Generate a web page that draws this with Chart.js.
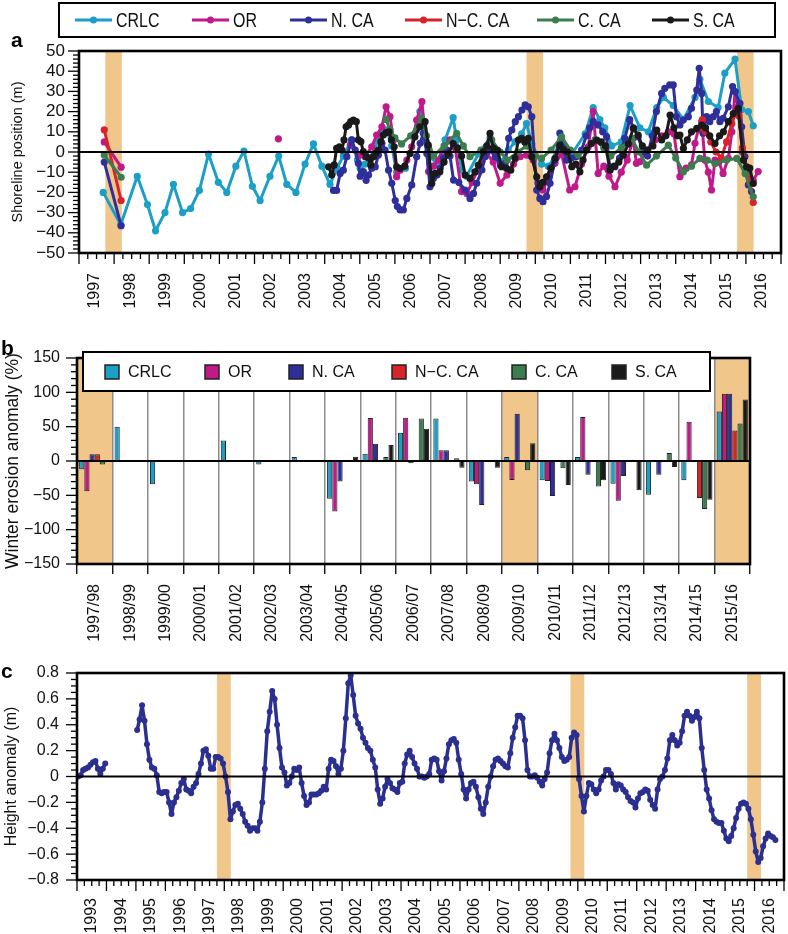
<!DOCTYPE html>
<html><head><meta charset="utf-8">
<script src="https://cdn.jsdelivr.net/npm/chart.js@4.4.1/dist/chart.umd.min.js"></script>
<style>
html,body{margin:0;padding:0;background:#fff;}
#wrap{position:relative;width:788px;height:934px;overflow:hidden;background:#fff;}
canvas{position:absolute;left:0;background:transparent;}
#ca{top:0;} #cb{top:318px;} #cc{top:648px;}
</style></head><body>
<div id="wrap">
<canvas id="ca" width="788" height="318"></canvas>
<canvas id="cb" width="788" height="330"></canvas>
<canvas id="cc" width="788" height="286"></canvas>
</div>
<script>
// ---------------- DATA ----------------
const seriesNames = ['CRLC', 'OR', 'N. CA', 'N\u2212C. CA', 'C. CA', 'S. CA'];

// Panel a: shoreline position (m), [decimal year, value]
const crlcShoreline = [[1997.69,-20],[1998.19,-36],[1998.66,-12],[1998.95,-26],[1999.18,-39],[1999.45,-30],[1999.69,-16],[1999.95,-30],[2000.18,-28],[2000.43,-19],[2000.69,-1],[2000.97,-15],[2001.21,-20],[2001.47,-7],[2001.70,0.5],[2001.94,-17],[2002.16,-24],[2002.44,-12],[2002.69,-2],[2002.92,-16],[2003.18,-20],[2003.44,-6],[2003.68,4],[2003.92,-7],[2004.15,-16],[2004.35,-8],[2004.53,-2],[2004.77,6],[2004.93,-4],[2005.01,-8],[2005.15,-6],[2005.29,-3],[2005.50,5],[2005.65,10],[2005.77,11],[2005.91,3],[2006.05,-10],[2006.30,-8],[2006.62,11],[2006.71,20],[2006.95,-1],[2007.19,-6],[2007.43,6],[2007.66,17],[2007.76,6],[2007.90,-9],[2008.04,-12],[2008.38,-1],[2008.71,7],[2009.04,-5],[2009.23,1],[2009.42,5],[2009.61,9],[2009.75,14],[2009.90,4],[2010.18,-6],[2010.37,-7],[2010.61,-1],[2010.75,6],[2011.04,-1],[2011.42,9],[2011.65,22],[2011.84,16],[2011.98,12],[2012.18,3],[2012.45,5],[2012.70,23],[2012.98,12],[2013.22,10],[2013.46,22],[2013.65,27],[2013.93,23],[2014.22,16],[2014.55,27],[2014.69,36],[2014.93,25],[2015.21,22],[2015.40,39],[2015.69,46],[2015.88,21],[2016.07,20],[2016.21,13]];
const orShoreline = [[1997.72,5],[1998.20,-7.5],[2000.0,null],[2002.68,6.5],[2003.5,null],[2004.73,3.5],[2004.96,-2],[2005.15,-2.3],[2005.34,2.6],[2005.48,8.4],[2005.63,12.5],[2005.75,22.4],[2005.86,17.5],[2005.96,6],[2006.05,-12.2],[2006.15,-9],[2006.34,-4],[2006.48,2.6],[2006.62,15.8],[2006.77,24.9],[2006.96,-9.7],[2007.10,-7],[2007.24,-4],[2007.38,1],[2007.57,6],[2007.72,2],[2007.90,-19.6],[2008.05,-20.5],[2008.20,-15],[2008.33,-9.7],[2008.48,-4.8],[2008.62,-0.7],[2008.80,-5],[2009.00,-15.5],[2009.19,-11.4],[2009.38,-6],[2009.57,-2.3],[2009.75,-1.5],[2009.94,-4],[2010.08,-15.5],[2010.22,-18.8],[2010.40,-12],[2010.56,-5.6],[2010.75,-1],[2010.98,-18.8],[2011.13,-17.2],[2011.32,-6],[2011.51,2.6],[2011.65,20],[2011.79,-10.6],[2011.95,-7],[2012.10,-12],[2012.27,-17.2],[2012.45,-10],[2012.62,-4],[2012.79,6.8],[2012.88,-5.6],[2012.98,-4.8],[2013.20,1],[2013.41,6],[2013.60,8],[2013.79,10],[2013.95,9],[2014.12,-12.2],[2014.30,-8],[2014.45,-6.4],[2014.55,4.3],[2014.64,10.9],[2014.74,15],[2014.83,-4],[2014.93,-10],[2015.02,-18.8],[2015.12,-4],[2015.23,-5],[2015.35,-10.6],[2015.50,-3.1],[2015.60,10],[2015.69,29.9],[2015.78,22.4],[2015.90,0],[2016.00,-8],[2016.11,-13.9],[2016.21,-14],[2016.35,-9.7]];
const nCaShoreline = [[1997.72,-5],[1998.20,-36.5],[2001.0,null],[2004.25,-19],[2004.34,-19],[2004.44,-10.6],[2004.53,-9],[2004.63,-2.3],[2004.77,6],[2004.87,1],[2004.96,-5.6],[2005.01,-12],[2005.10,-9.7],[2005.18,-14],[2005.25,-11.4],[2005.34,-8],[2005.44,-7.3],[2005.53,-1.5],[2005.63,4.3],[2005.72,1],[2005.82,-9],[2005.91,-15.5],[2006.01,-24],[2006.07,-27],[2006.15,-28.7],[2006.24,-28.7],[2006.34,-23],[2006.48,-16.3],[2006.62,-2.3],[2006.72,4.3],[2006.81,9.3],[2006.91,-0.7],[2007.00,-17.2],[2007.10,-13],[2007.20,-11.4],[2007.29,-8.1],[2007.38,-3],[2007.48,1],[2007.57,-2],[2007.67,-13.9],[2007.82,-15],[2008.00,-18.8],[2008.14,-23],[2008.24,-20.5],[2008.33,-15.5],[2008.48,-8.9],[2008.57,-2.3],[2008.71,1],[2008.86,-2.3],[2009.00,-6.4],[2009.14,-5.6],[2009.24,6.8],[2009.33,10.9],[2009.43,15],[2009.52,17.5],[2009.62,20.8],[2009.71,23.3],[2009.80,22.4],[2009.90,17.5],[2010.04,-18.8],[2010.13,-23],[2010.22,-24.6],[2010.32,-22],[2010.42,-15.5],[2010.56,-4],[2010.70,9.3],[2010.80,2],[2010.89,-4],[2011.03,-3],[2011.17,-2.3],[2011.32,1],[2011.45,8],[2011.55,12],[2011.65,15],[2011.79,13.4],[2011.92,10],[2012.03,7.6],[2012.12,-7.3],[2012.27,-7.3],[2012.40,-3],[2012.55,6.8],[2012.69,16],[2012.80,12],[2012.93,7.6],[2013.07,0],[2013.20,-2],[2013.33,8],[2013.45,20],[2013.60,29],[2013.69,31.5],[2013.83,33.2],[2013.93,33.2],[2014.02,17.5],[2014.12,13.4],[2014.21,15.8],[2014.36,17.5],[2014.45,21.6],[2014.60,30.7],[2014.67,41.4],[2014.74,29],[2014.78,9.3],[2014.88,17.5],[2014.97,15],[2015.07,17.5],[2015.16,20],[2015.26,15],[2015.35,16.7],[2015.50,22.4],[2015.62,32.4],[2015.69,29.9],[2015.83,24.1],[2015.88,12.5],[2015.97,-2.3],[2016.07,-16.3],[2016.16,-19.6]];
const ncCaShoreline = [[1997.72,11],[1998.20,-24],[2001.0,null],[2014.70,12],[2014.76,16],[2014.85,10],[2015.00,5],[2015.15,0],[2015.30,-3],[2015.45,5],[2015.60,14],[2015.72,20],[2015.80,18],[2015.90,2],[2016.02,-10],[2016.11,-15],[2016.21,-25]];
const cCaShoreline = [[1997.72,-1.5],[1998.20,-12.5],[2001.0,null],[2005.75,16],[2005.86,11],[2006.00,7],[2006.19,4],[2006.45,8],[2006.76,16.6],[2006.90,8],[2007.10,-2],[2007.40,3],[2007.76,9.2],[2007.95,3],[2008.14,-2.3],[2008.45,1],[2008.76,6],[2009.00,0],[2009.20,-4],[2009.50,0],[2009.75,3],[2010.00,-2],[2010.18,-3.2],[2010.45,1],[2010.75,7.5],[2011.00,1],[2011.22,-1.5],[2011.45,1],[2011.70,6],[2011.95,2],[2012.15,-2],[2012.45,2],[2012.75,6.7],[2012.95,0],[2013.17,-6.5],[2013.45,-2],[2013.79,3.4],[2014.00,-3],[2014.22,-9.8],[2014.45,-7],[2014.69,-3.2],[2014.90,-4],[2015.12,-5.7],[2015.45,-4],[2015.74,-3.2],[2015.98,-10.6],[2016.21,-22.2]];
const sCaShoreline = [[2004.11,-7.3],[2004.20,-11.4],[2004.27,-6.4],[2004.34,1.8],[2004.42,2.6],[2004.49,1],[2004.55,6],[2004.61,12.5],[2004.68,13.4],[2004.74,15],[2004.82,15.8],[2004.90,15],[2004.96,6],[2005.03,5.1],[2005.10,0.2],[2005.18,-2.3],[2005.25,-3],[2005.31,-6.4],[2005.39,-2.3],[2005.46,-0.6],[2005.53,1],[2005.60,5.1],[2005.67,8.4],[2005.75,9.6],[2005.83,10],[2005.90,6],[2005.98,2.6],[2006.05,-7.3],[2006.14,-8.1],[2006.28,-7],[2006.43,-0.7],[2006.57,7.5],[2006.71,12.5],[2006.86,15],[2006.95,3.4],[2007.05,-15.6],[2007.14,-10.6],[2007.28,-9.8],[2007.40,-5],[2007.52,-1],[2007.66,4.2],[2007.78,2],[2007.90,-2],[2008.00,-11.4],[2008.14,-13.1],[2008.28,-9.8],[2008.38,-6.5],[2008.52,0.1],[2008.62,3],[2008.71,9.2],[2008.80,2],[2008.92,1],[2009.04,-7.3],[2009.18,-8.1],[2009.30,-9],[2009.42,-3],[2009.52,5.9],[2009.61,6.7],[2009.70,5],[2009.80,6.7],[2009.90,-2.3],[2010.04,-12.3],[2010.13,-17.2],[2010.22,-15],[2010.32,-12.3],[2010.44,-8],[2010.56,-3.2],[2010.70,3.4],[2010.80,1],[2010.92,0],[2011.04,-7.3],[2011.15,-6],[2011.27,-9.8],[2011.36,-4],[2011.46,1],[2011.60,4.2],[2011.75,5.9],[2011.88,5],[2012.00,3],[2012.13,-9],[2012.25,-7],[2012.38,-5],[2012.51,-1.5],[2012.65,4],[2012.79,11.7],[2012.93,8.4],[2013.05,3],[2013.20,1],[2013.35,3],[2013.46,10.9],[2013.60,6],[2013.72,8],[2013.84,18.3],[2013.95,12],[2014.05,8],[2014.12,8.4],[2014.22,1.8],[2014.33,6],[2014.45,10],[2014.60,11.7],[2014.74,13.3],[2014.85,12],[2014.97,8],[2015.12,4.2],[2015.25,8],[2015.36,10],[2015.50,15],[2015.64,19],[2015.78,21.6],[2015.93,-4],[2016.02,-7.3],[2016.11,-8],[2016.21,-15.6]];

// Panel b: winter erosion anomaly (%)
const winters = ['1997/98','1998/99','1999/00','2000/01','2001/02','2002/03','2003/04','2004/05','2005/06','2006/07','2007/08','2008/09','2009/10','2010/11','2011/12','2012/13','2013/14','2014/15','2015/16'];
const crlcErosion = [-12, 50, -34, -1, 30, -5, 6, -55, 10.7, 41, 62, -30, 6, -28, 6, -33, -49, -28, 72];
const orErosion   = [-44, null, null, null, null, null, null, -73.5, 62.6, 63, 15.5, -34, -27.6, -29, 64, -58, 1, 57, 98];
const nCaErosion  = [10, null, null, null, null, null, null, -30, 25, -3.4, 15.5, -64, 68.7, -51, -20, -22, -20, 1.5, 98];
const ncCaErosion = [10, null, null, null, null, null, null, null, null, null, null, null, null, null, null, null, null, -54, 44.5];
const cCaErosion  = [-5, null, null, null, null, null, null, null, 5.8, 62, 4, null, -13.5, -10.6, -37, 2, 11.6, -70, 54.7];
const sCaErosion  = [null, null, null, null, null, null, null, 6.3, 23.3, 47, -9.7, -9.7, 26, -34.8, -28, -42.6, -8.7, -56.6, 89.5];

// Panel c: monthly height anomaly (m), starting January 1993 (1994 missing)
const heightStartYear = 1993;
const heightAnomaly = [
 0.00,0.01,0.05,0.06,0.07,0.09,0.11,0.12,0.06,0.02,0.06,0.10,
 null,null,null,null,null,null,null,null,null,null,null,null,
 0.36,0.44,0.55,0.43,0.25,0.13,0.07,0.06,0.01,-0.12,-0.13,-0.12,
 -0.12,-0.20,-0.29,-0.20,-0.16,-0.11,-0.05,-0.02,-0.10,-0.11,-0.13,-0.08,
 -0.05,0.02,0.10,0.20,0.21,0.16,0.06,0.06,0.15,0.15,0.14,0.10,
 0.00,-0.12,-0.33,-0.27,-0.22,-0.21,-0.25,-0.29,-0.35,-0.38,-0.42,-0.40,
 -0.40,-0.42,-0.35,-0.20,0.06,0.35,0.50,0.66,0.60,0.40,0.22,0.07,
 0.03,-0.07,-0.05,0.00,0.06,0.05,0.07,-0.05,-0.15,-0.22,-0.20,-0.14,
 -0.14,-0.14,-0.13,-0.11,-0.08,-0.10,0.06,0.13,0.12,0.08,0.02,0.06,
 0.20,0.45,0.72,0.78,0.63,0.47,0.41,0.37,0.30,0.26,0.22,0.20,
 0.13,0.07,-0.10,-0.21,-0.17,-0.08,-0.02,-0.05,-0.09,-0.10,-0.12,-0.05,
 -0.04,0.10,0.17,0.20,0.15,0.10,0.06,0.00,0.00,-0.01,0.00,0.02,
 0.13,0.14,0.13,0.04,-0.03,0.04,0.14,0.25,0.28,0.29,0.26,0.13,
 0.02,-0.10,-0.17,-0.10,-0.05,-0.04,-0.08,-0.16,-0.25,-0.29,-0.20,-0.08,
 0.00,0.08,0.13,0.14,0.12,0.10,0.08,0.07,0.18,0.30,0.38,0.47,
 0.47,0.45,0.28,0.05,0.00,0.00,0.01,-0.01,-0.04,-0.07,-0.02,0.03,
 0.18,0.28,0.33,0.28,0.22,0.15,0.12,0.13,0.15,0.30,0.34,0.32,
 -0.02,-0.15,-0.27,-0.15,-0.05,-0.06,-0.10,-0.13,-0.10,-0.03,0.00,0.05,
 0.05,0.02,-0.05,-0.10,-0.06,-0.07,-0.10,-0.12,-0.16,-0.19,-0.20,-0.24,
 -0.17,-0.13,-0.12,-0.10,-0.11,-0.18,-0.22,-0.25,-0.10,-0.02,0.00,0.05,
 0.14,0.28,0.32,0.28,0.24,0.26,0.35,0.47,0.50,0.47,0.43,0.46,
 0.50,0.45,0.22,0.05,-0.10,-0.17,-0.26,-0.33,-0.35,-0.36,-0.36,-0.42,
 -0.48,-0.50,-0.46,-0.40,-0.32,-0.25,-0.21,-0.20,-0.21,-0.25,-0.33,-0.45,
 -0.58,-0.66,-0.63,-0.54,-0.48,-0.44,-0.46,-0.47,-0.49
];

// El Nino winters (shaded)
const elNinoYearSpans = [[1997.75, 1998.22], [2009.75, 2010.22], [2015.75, 2016.22]];
const elNinoWinters = ['1997/98', '2009/10', '2015/16'];

// ---------------- STYLE ----------------
const FONT = "'Liberation Sans', Arial, Helvetica, sans-serif";
const COLORS = ['#1c9fc6', '#c0198a', '#2e2f9a', '#d8232a', '#3a7d4e', '#1a1a1a'];
const BAND = '#f0c68b';
const TXT = '#111';
Chart.defaults.font.family = FONT;
Chart.defaults.font.size = 16;
Chart.defaults.color = TXT;

const minusFmt = v => { const r = Math.round(v); return r < 0 ? '\u2212' + Math.abs(r) : String(r); };
const minusFmt1 = v => { const r = Math.round(v * 10) / 10; if (r === 0) return '0'; return (r < 0 ? '\u2212' : '') + Math.abs(r).toFixed(1); };

function drawTickMarks(ctx, scale, a, t, horiz) {
  const n = Math.round((scale.max - scale.min) / t.minor);
  for (let k = 0; k <= n; k++) {
    const v = scale.min + k * t.minor;
    const r = v / t.major;
    const isMajor = Math.abs(r - Math.round(r)) < 1e-6;
    const len = isMajor ? 11 : 6;
    const p = scale.getPixelForValue(v);
    ctx.beginPath();
    if (horiz) { ctx.moveTo(p, a.bottom); ctx.lineTo(p, a.bottom + len); }
    else { ctx.moveTo(a.left - len, p); ctx.lineTo(a.left, p); }
    ctx.stroke();
  }
}

function panelPlugin(cfg) {
  return {
    id: 'panel' + cfg.letter,
    beforeDraw(chart) {
      const { ctx, chartArea: a } = chart; const xs = chart.scales.x;
      ctx.save(); ctx.fillStyle = BAND;
      cfg.bands.forEach(b => {
        let x0, x1;
        if (Array.isArray(b)) { x0 = xs.getPixelForValue(b[0]); x1 = xs.getPixelForValue(b[1]); }
        else {
          const w = xs.getPixelForValue(1) - xs.getPixelForValue(0);
          const c = xs.getPixelForValue(b);
          x0 = c - w / 2; x1 = c + w / 2;
        }
        ctx.fillRect(x0, a.top, x1 - x0, a.bottom - a.top);
      });
      ctx.restore();
    },
    afterDatasetsDraw(chart) {
      const { ctx, chartArea: a } = chart; const xs = chart.scales.x, ys = chart.scales.y;
      ctx.save();
      ctx.strokeStyle = '#000';
      ctx.lineWidth = 2.2;
      const y0 = ys.getPixelForValue(0);
      ctx.beginPath(); ctx.moveTo(a.left, y0); ctx.lineTo(a.right, y0); ctx.stroke();
      ctx.lineWidth = 2.6;
      ctx.strokeRect(a.left, a.top, a.right - a.left, a.bottom - a.top);
      ctx.lineWidth = 1.3;
      if (cfg.xTicks) drawTickMarks(ctx, xs, a, cfg.xTicks, true);
      if (cfg.yTicks) drawTickMarks(ctx, ys, a, cfg.yTicks, false);
      ctx.restore();
    },
    afterDraw(chart) {
      const { ctx } = chart;
      ctx.save();
      const L = cfg.legend;
      if (L) {
        const [bx0, by0, bx1, by1] = L.box;
        ctx.fillStyle = '#fff'; ctx.fillRect(bx0, by0, bx1 - bx0, by1 - by0);
        ctx.strokeStyle = '#000'; ctx.lineWidth = 2; ctx.strokeRect(bx0, by0, bx1 - bx0, by1 - by0);
        chart.data.datasets.forEach((ds, i) => {
          const sx = L.xs[i], cy = L.cy, col = COLORS[i];
          if (L.style === 'line') {
            ctx.strokeStyle = col; ctx.lineWidth = 3;
            ctx.beginPath(); ctx.moveTo(sx, cy); ctx.lineTo(sx + L.len, cy); ctx.stroke();
            ctx.fillStyle = col; ctx.beginPath(); ctx.arc(sx + L.len / 2, cy, 3.5, 0, Math.PI * 2); ctx.fill();
          } else {
            ctx.fillStyle = col; ctx.fillRect(sx, cy - 7, 14, 14);
            ctx.strokeStyle = '#222'; ctx.lineWidth = 1.5; ctx.strokeRect(sx, cy - 7, 14, 14);
          }
          ctx.save();
          ctx.translate(sx + L.textGap, cy + 1);
          ctx.scale(L.textScale, 1);
          ctx.font = L.font; ctx.fillStyle = TXT; ctx.textBaseline = 'middle'; ctx.textAlign = 'left';
          ctx.fillText(ds.label, 0, 0);
          ctx.restore();
        });
      }
      ctx.font = 'bold 21px ' + FONT; ctx.fillStyle = '#000'; ctx.textBaseline = 'alphabetic';
      ctx.fillText(cfg.letter, cfg.letterPos[0], cfg.letterPos[1]);
      ctx.restore();
    }
  };
}

const common = { responsive: false, devicePixelRatio: 1, animation: false, events: [],
  plugins: { legend: { display: false }, tooltip: { enabled: false } } };

function lineSet(label, pts, color, order) {
  return { label, data: pts.map(p => ({ x: p[0], y: p[1] })), borderColor: color, backgroundColor: color,
    pointBackgroundColor: color, pointBorderWidth: 0, pointRadius: 3.6, borderWidth: 3, tension: 0,
    borderJoinStyle: 'round', borderCapStyle: 'round', spanGaps: false, order };
}

// ---------------- PANEL A ----------------
new Chart(document.getElementById('ca'), {
  type: 'line',
  data: { datasets: [
    lineSet(seriesNames[0], crlcShoreline, COLORS[0], 6),
    lineSet(seriesNames[1], orShoreline, COLORS[1], 5),
    lineSet(seriesNames[2], nCaShoreline, COLORS[2], 4),
    lineSet(seriesNames[3], ncCaShoreline, COLORS[3], 3),
    lineSet(seriesNames[4], cCaShoreline, COLORS[4], 2),
    lineSet(seriesNames[5], sCaShoreline, COLORS[5], 1)
  ] },
  options: Object.assign({}, common, {
    layout: { padding: { top: 51, right: 7, left: 0, bottom: 0 } },
    scales: {
      x: { type: 'linear', min: 1997, max: 2017,
        afterFit: s => { s.height = 65; s.paddingLeft = 0; s.paddingRight = 0; },
        grid: { display: false, drawTicks: true, tickLength: 11 }, border: { display: false },
        ticks: { stepSize: 1, autoSkip: false, maxRotation: 90, minRotation: 90, labelOffset: 16, padding: 9,
          callback: v => (Math.round(v) < 2017 ? String(Math.round(v)) : '') } },
      y: { min: -50, max: 50,
        afterFit: s => { s.width = 79; s.paddingTop = 0; s.paddingBottom = 0; },
        grid: { display: false, drawTicks: true, tickLength: 11 }, border: { display: false },
        ticks: { stepSize: 10, autoSkip: false, padding: 3, font: { size: 17 }, callback: minusFmt },
        title: { display: true, text: 'Shoreline position (m)', font: { size: 14.5 }, color: TXT, padding: { top: 9.5, bottom: 0 } } }
    }
  }),
  plugins: [panelPlugin({ letter: 'a', letterPos: [11, 47], bands: elNinoYearSpans,
    xTicks: { minor: 0.25, major: 1 }, yTicks: { minor: 2, major: 10 },
    legend: { style: 'line', box: [59, 3, 775, 37], cy: 20, xs: [75, 192, 290, 405, 537, 652], len: 37, textGap: 41,
      font: '21px ' + FONT, textScale: 0.76 } })]
});

// ---------------- PANEL B ----------------
function barSet(label, vals, color) {
  return { label, data: vals, backgroundColor: color, borderColor: '#222', borderWidth: 1,
    categoryPercentage: 0.88, barPercentage: 1.0 };
}
new Chart(document.getElementById('cb'), {
  type: 'bar',
  data: { labels: winters, datasets: [
    barSet(seriesNames[0], crlcErosion, COLORS[0]),
    barSet(seriesNames[1], orErosion, COLORS[1]),
    barSet(seriesNames[2], nCaErosion, COLORS[2]),
    barSet(seriesNames[3], ncCaErosion, COLORS[3]),
    barSet(seriesNames[4], cCaErosion, COLORS[4]),
    barSet(seriesNames[5], sCaErosion, COLORS[5])
  ] },
  options: Object.assign({}, common, {
    layout: { padding: { top: 40, right: 38, left: 0, bottom: 0 } },
    scales: {
      x: { type: 'category', offset: true,
        afterFit: s => { s.height = 84; s.paddingLeft = 0; s.paddingRight = 0; },
        grid: { display: true, offset: true, color: '#8c8c8c', lineWidth: 1.5, drawTicks: true, tickLength: 10, tickColor: '#000', tickWidth: 1.3 },
        border: { display: false },
        ticks: { autoSkip: false, maxRotation: 90, minRotation: 90, padding: 10 } },
      y: { min: -150, max: 150,
        afterFit: s => { s.width = 77; s.paddingTop = 0; s.paddingBottom = 0; },
        grid: { display: false, drawTicks: true, tickLength: 11 }, border: { display: false },
        ticks: { stepSize: 50, autoSkip: false, padding: 6, callback: minusFmt },
        title: { display: true, text: 'Winter erosion anomaly (%)', font: { size: 17.5 }, color: TXT, padding: { top: 3, bottom: 0 } } }
    }
  }),
  plugins: [panelPlugin({ letter: 'b', letterPos: [1, 37], bands: elNinoWinters.map(w => winters.indexOf(w)),
    yTicks: { minor: 10, major: 50 },
    legend: { style: 'box', box: [83, 34, 710, 73], cy: 54, xs: [105, 205, 289, 392, 512, 612], textGap: 23,
      font: '16px ' + FONT, textScale: 1 } })]
});

// ---------------- PANEL C ----------------
new Chart(document.getElementById('cc'), {
  type: 'line',
  data: { datasets: [{
    label: 'Height anomaly',
    data: heightAnomaly.map((v, i) => ({ x: heightStartYear + (i + 0.5) / 12, y: v })),
    borderColor: '#2b2f8f', backgroundColor: '#2b2f8f', pointBackgroundColor: '#2b2f8f',
    pointBorderWidth: 0, pointRadius: 3, borderWidth: 3.5, tension: 0,
    borderJoinStyle: 'round', borderCapStyle: 'round', spanGaps: false
  }] },
  options: Object.assign({}, common, {
    layout: { padding: { top: 25, right: 1, left: 0, bottom: 0 } },
    scales: {
      x: { type: 'linear', min: 1993, max: 2017,
        afterFit: s => { s.height = 54; s.paddingLeft = 0; s.paddingRight = 0; },
        grid: { display: false, drawTicks: true, tickLength: 11 }, border: { display: false },
        ticks: { stepSize: 1, autoSkip: false, maxRotation: 90, minRotation: 90, labelOffset: 14.79, padding: 7,
          callback: v => (Math.round(v) < 2017 ? String(Math.round(v)) : '') } },
      y: { min: -0.8, max: 0.8,
        afterFit: s => { s.width = 77; s.paddingTop = 0; s.paddingBottom = 0; },
        grid: { display: false, drawTicks: true, tickLength: 11 }, border: { display: false },
        ticks: { stepSize: 0.2, autoSkip: false, padding: 7, callback: minusFmt1 },
        title: { display: true, text: 'Height anomaly (m)', font: { size: 16 }, color: TXT, padding: { top: 1.5, bottom: 0 } } }
    }
  }),
  plugins: [panelPlugin({ letter: 'c', letterPos: [1, 30], bands: elNinoYearSpans,
    xTicks: { minor: 0.25, major: 1 }, yTicks: { minor: 0.05, major: 0.2 } })]
});
</script>
</body></html>
